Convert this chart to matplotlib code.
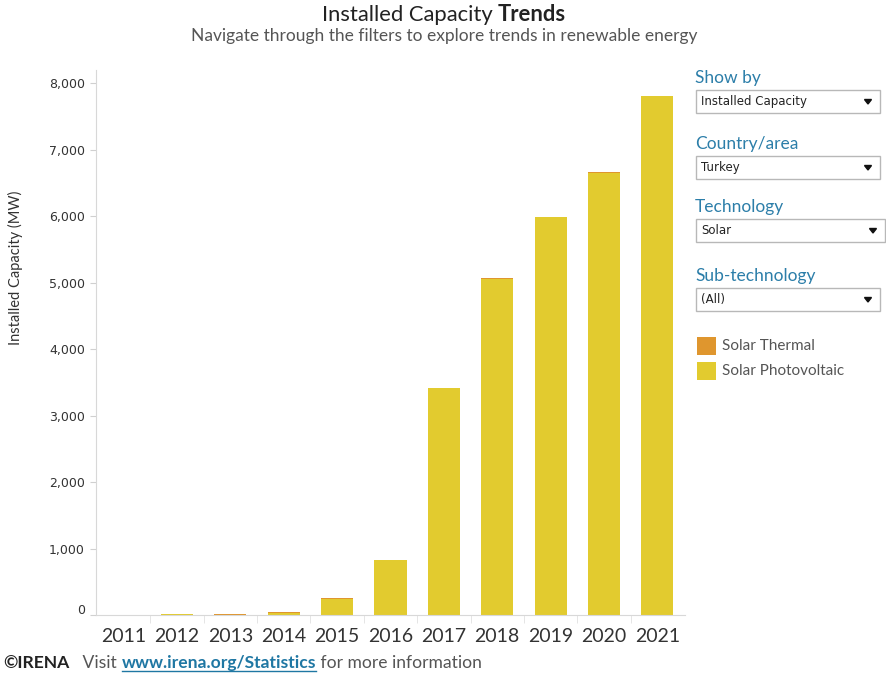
import numpy as np
import matplotlib
matplotlib.use("Agg")
import matplotlib.pyplot as plt
from matplotlib.patches import Rectangle, Polygon
from matplotlib.transforms import ScaledTranslation

# Turkey, solar capacity by sub-technology (MW)
years = ["2011", "2012", "2013", "2014", "2015", "2016",
         "2017", "2018", "2019", "2020", "2021"]
solar_pv = [0, 12, 6, 28, 237, 821, 3409, 5051, 5983, 6656, 7804]
solar_thermal = [0, 0, 12, 12, 12, 12, 12, 12, 12, 12, 12]

series_names = ["Solar Thermal", "Solar Photovoltaic"]
series_colors = ["#DF962E", "#E2CB2F"]
filters = [("Show by", "Installed Capacity"), ("Country/area", "Turkey"),
           ("Technology", "Solar"), ("Sub-technology", "(All)")]

W, H = 886, 674
FONT = "Lato"


def fx(x):
    return x / W


def fy(y):
    return 1 - y / H


fig = plt.figure(figsize=(W / 100, H / 100), dpi=100)
ax = fig.add_axes([fx(96), fy(615), fx(685) - fx(96), fy(70) - fy(615)])

x = np.arange(len(years))
ax.bar(x, solar_pv, width=0.6, color=series_colors[1], zorder=2)
ax.bar(x, solar_thermal, width=0.6, bottom=solar_pv, color=series_colors[0], zorder=2)

ax.set_xlim(-0.52, len(years) - 0.48)
ax.set_ylim(0, 8200)
ax.set_yticks(np.arange(0, 8001, 1000))
ax.set_yticklabels([f"{v:,}" for v in range(0, 8001, 1000)],
                   fontsize=9, family="DejaVu Sans", color="#333333")
ax.tick_params(axis="y", length=4, color="#d0d0d0", pad=4)
# the zero label sits a little above the baseline
zero = ax.get_yticklabels()[0]
zero.set_transform(zero.get_transform() + ScaledTranslation(0, 0.06, fig.dpi_scale_trans))
ax.set_xticks(x)
ax.set_xticklabels(years, fontsize=14, family=FONT, color="#333333")
ax.tick_params(axis="x", length=0, pad=9)
# separators between year categories
ax.set_xticks(np.arange(len(years) - 1) + 0.5, minor=True)
ax.tick_params(axis="x", which="minor", length=6, color="#e0e0e0")

for side in ["top", "right"]:
    ax.spines[side].set_visible(False)
ax.spines["left"].set_color("#d8d8d8")
ax.spines["bottom"].set_color("#d8d8d8")

fig.text(fx(15), fy(268), "Installed Capacity (MW)", rotation=90,
         ha="center", va="center", fontsize=10.5, family=FONT, color="#333333")

fig.canvas.draw()
renderer = fig.canvas.get_renderer()


def text_row(parts, x0, y, center=False):
    """Draw a row of differently styled text pieces side by side (pixel coords)."""
    arts = []
    for s, kw in parts:
        arts.append(fig.text(0, fy(y), s, va="baseline", ha="left", **kw))
    widths = [a.get_window_extent(renderer).width for a in arts]
    cur = x0 - sum(widths) / 2 if center else x0
    for a, w in zip(arts, widths):
        a.set_x(fx(cur))
        cur += w
    return arts


text_row([("Installed Capacity ", dict(fontsize=15.8, family=FONT, color="#222222")),
          ("Trends", dict(fontsize=15.8, family=FONT, color="#222222", weight="bold"))],
         444, 21, center=True)
text_row([("Navigate through the filters to explore trends in renewable energy",
           dict(fontsize=12.5, family=FONT, color="#555555"))], 444, 41, center=True)

foot = text_row([("©IRENA", dict(fontsize=12.6, family=FONT, color="#222222", weight="bold")),
                 ("   Visit ", dict(fontsize=12.6, family=FONT, color="#555555")),
                 ("www.irena.org/Statistics", dict(fontsize=12.6, family=FONT,
                                                  color="#1F77A3", weight="bold")),
                 (" for more information", dict(fontsize=12.6, family=FONT, color="#555555"))],
                3, 668)
bb = foot[2].get_window_extent(renderer)
fig.add_artist(plt.Line2D([fx(bb.x0), fx(bb.x1)], [fy(671), fy(671)],
                          color="#1F77A3", lw=1))

# filter panel on the right
box_tops = [90, 156, 219, 288]
box_right = [880, 880, 885, 880]
for (title, value), top, right in zip(filters, box_tops, box_right):
    fig.text(fx(695), fy(top - 7), title, fontsize=12.5, family=FONT,
             color="#2C7EA9", va="baseline")
    fig.add_artist(Rectangle((fx(696), fy(top + 23)), fx(right) - fx(696),
                             fy(top) - fy(top + 23), facecolor="white",
                             edgecolor="#b8b8b8", lw=1))
    fig.text(fx(701), fy(top + 11.5), value, fontsize=8.5, family="DejaVu Sans",
             color="#222222", va="center")
    cx, cy = right - 12, top + 11.5
    fig.add_artist(Polygon([(fx(cx - 3.5), fy(cy - 2)), (fx(cx + 3.5), fy(cy - 2)),
                            (fx(cx), fy(cy + 2.5))], closed=True, color="#111111"))

for name, color, top in zip(series_names, series_colors, [337, 362]):
    fig.add_artist(Rectangle((fx(697), fy(top + 18)), fx(716) - fx(697),
                             fy(top) - fy(top + 18), facecolor=color, edgecolor="none"))
    fig.text(fx(722), fy(top + 9), name, fontsize=11, family=FONT,
             color="#555555", va="center")

fig.savefig("out.png", dpi=100)
